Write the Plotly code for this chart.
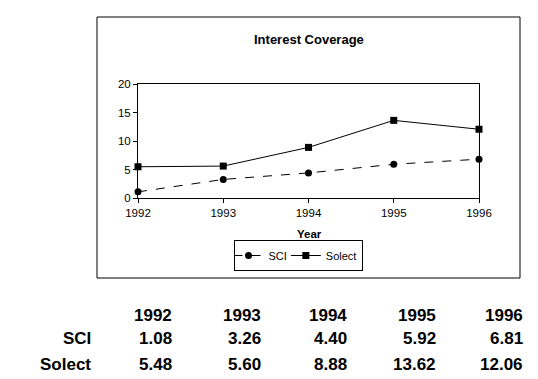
import plotly.graph_objects as go

years = [1992, 1993, 1994, 1995, 1996]
sci = [1.08, 3.26, 4.40, 5.92, 6.81]
solect = [5.48, 5.60, 8.88, 13.62, 12.06]
series_names = ["SCI", "Solect"]
y_ticks = [0, 5, 10, 15, 20]

OFF = 8  # page body margin
W, H = 538 - OFF, 379 - OFF
# plot area in screen pixels
SL, SR, ST, SB = 138, 479, 84, 198
L, R, T, B = SL - OFF, SR - OFF, ST - OFF, SB - OFF
pw, ph = R - L, B - T

def px(x):  # screen x -> paper
    return (x - OFF - L) / pw

def py(y):  # screen y -> paper
    return (B - (y - OFF)) / ph

FONT = "Liberation Sans, Arial, sans-serif"

fig = go.Figure()
fig.add_trace(go.Scatter(
    x=years, y=sci, name=series_names[0], mode="lines+markers",
    line=dict(color="black", width=1, dash="dash"),
    marker=dict(symbol="circle", size=7, color="black"),
))
fig.add_trace(go.Scatter(
    x=years, y=solect, name=series_names[1], mode="lines+markers",
    line=dict(color="black", width=1),
    marker=dict(symbol="square", size=7, color="black"),
))

# outer chart frame
fig.add_shape(type="rect", xref="paper", yref="paper",
              x0=px(97), x1=px(520), y0=py(278), y1=py(17),
              line=dict(color="black", width=1), layer="below")

ann = []
ann.append(dict(text="<b>Interest Coverage</b>", x=px(309), y=py(39), xref="paper", yref="paper",
                xanchor="center", yanchor="middle",
                showarrow=False, font=dict(size=13, family=FONT, color="black")))
ann.append(dict(text="<b>Year</b>", x=px(309), y=py(234), xref="paper", yref="paper",
                xanchor="center", yanchor="middle",
                showarrow=False, font=dict(size=11.5, family=FONT, color="black")))

# data table below the chart
col_right = [174, 263, 349, 438, 525]
row_y = [315, 338, 364]
label_right = 93
tfont = dict(size=17, family=FONT, color="black")
for i, yr in enumerate(years):
    ann.append(dict(text=f"<b>{yr}</b>", x=px(col_right[i]), y=py(row_y[0]), xref="paper", yref="paper",
                    xanchor="right", yanchor="middle", showarrow=False, font=tfont))
for r, (name, vals) in enumerate(zip(series_names, [sci, solect])):
    ann.append(dict(text=f"<b>{name}</b>", x=px(label_right), y=py(row_y[r + 1]), xref="paper", yref="paper",
                    xanchor="right", yanchor="middle", showarrow=False, font=tfont))
    for i, v in enumerate(vals):
        ann.append(dict(text=f"<b>{v:.2f}</b>", x=px(col_right[i]), y=py(row_y[r + 1]), xref="paper", yref="paper",
                        xanchor="right", yanchor="middle", showarrow=False, font=tfont))

fig.update_layout(
    width=W, height=H,
    margin=dict(l=L, r=W - R, t=T, b=H - B, pad=0),
    paper_bgcolor="white", plot_bgcolor="white",
    font=dict(family=FONT, size=11, color="black"),
    showlegend=True,
    legend=dict(orientation="h", x=px(298), y=py(240), xanchor="center", yanchor="top",
                bordercolor="black", borderwidth=1, bgcolor="white",
                font=dict(size=11, family=FONT, color="black"),
                itemwidth=30, tracegroupgap=0, indentation=-6),
    annotations=ann,
    xaxis=dict(range=[1992, 1996], tickvals=years, ticktext=[str(y) for y in years],
               showline=True, linecolor="black", linewidth=1, mirror=True,
               ticks="outside", ticklen=4, tickcolor="black", showgrid=False, zeroline=False,
               tickfont=dict(size=11.5, family=FONT)),
    yaxis=dict(range=[0, 20], tickvals=y_ticks,
               showline=True, linecolor="black", linewidth=1, mirror=True,
               ticks="outside", ticklen=4, tickcolor="black", showgrid=False, zeroline=False,
               tickfont=dict(size=11.5, family=FONT)),
)
fig.update_traces(cliponaxis=False)

fig.write_html("out.html")
